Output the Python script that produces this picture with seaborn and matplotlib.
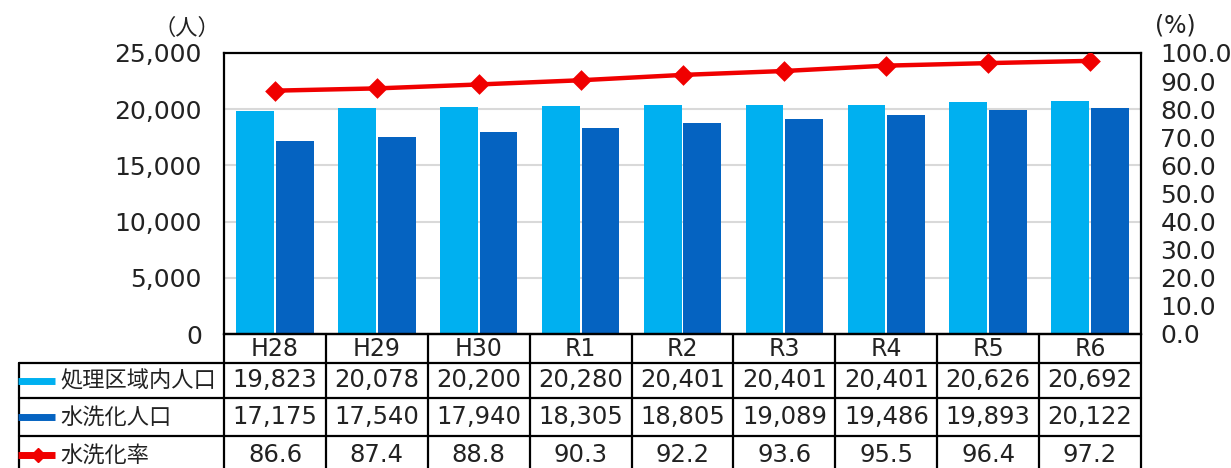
import matplotlib
matplotlib.use("Agg")
from matplotlib import pyplot as plt
from matplotlib import transforms
from matplotlib.ticker import FuncFormatter, MultipleLocator
import seaborn as sns
import numpy as np
import pandas as pd

# データ
years = ["H28", "H29", "H30", "R1", "R2", "R3", "R4", "R5", "R6"]
area_pop = [19823, 20078, 20200, 20280, 20401, 20401, 20401, 20626, 20692]
flush_pop = [17175, 17540, 17940, 18305, 18805, 19089, 19486, 19893, 20122]
flush_rate = [86.6, 87.4, 88.8, 90.3, 92.2, 93.6, 95.5, 96.4, 97.2]
series_names = ["処理区域内人口", "水洗化人口", "水洗化率"]

C_LIGHT = "#00B0F0"
C_DARK = "#0563C1"
C_RED = "#F00000"
C_TXT = "#222222"

sns.set_theme(style="white")
# 数字は幅広の DejaVu、漢字は Noto CJK にフォールバック
plt.rcParams["font.family"] = ["DejaVu Sans", "Noto Sans CJK JP"]

W, H = 1231, 468
fig = plt.figure(figsize=(W / 100, H / 100), dpi=100)
# 軸の位置（ピクセル）
ax_l, ax_r, ax_t, ax_b = 224, 1141, 53, 334
ax = fig.add_axes([ax_l / W, 1 - ax_b / H, (ax_r - ax_l) / W, (ax_b - ax_t) / H])

df = pd.DataFrame({
    "year": years * 2,
    "value": area_pop + flush_pop,
    "series": [series_names[0]] * len(years) + [series_names[1]] * len(years),
})

# グリッド線（棒の後ろ）
ax.set_axisbelow(True)
ax.yaxis.grid(True, color="#D9D9D9", linewidth=1.5)

sns.barplot(data=df, x="year", y="value", hue="series", order=years,
            palette=[C_LIGHT, C_DARK], width=0.78, gap=0.05,
            saturation=1, linewidth=0, ax=ax, legend=False)
ax.set_ylim(0, 25000)
ax.yaxis.set_major_locator(MultipleLocator(5000))
ax.yaxis.set_major_formatter(FuncFormatter(lambda v, p: f"{int(v):,}"))
ax.set_xlim(-0.5, len(years) - 0.5)
ax.set_xlabel("")
ax.set_ylabel("")
ax.set_xticks(range(len(years)))
ax.set_xticklabels([])
ax.tick_params(axis="y", length=0, pad=16, labelsize=18, colors=C_TXT)
ax.tick_params(axis="x", length=0)
for s in ax.spines.values():
    s.set_color("black")
    s.set_linewidth(1.6)

# 第2軸：水洗化率
ax2 = ax.twinx()
sns.pointplot(x=years, y=flush_rate, order=years, color=C_RED, markers="D",
              markersize=8.5, linewidth=3.2, ax=ax2)
ax2.set_ylim(0, 100)
ax2.yaxis.set_major_locator(MultipleLocator(10))
ax2.yaxis.set_major_formatter(FuncFormatter(lambda v, p: f"{v:.1f}"))
ax2.set_xlim(-0.5, len(years) - 0.5)
ax2.tick_params(axis="y", length=0, pad=14, labelsize=18, colors=C_TXT)
ax2.set_ylabel("")
ax2.grid(False)
for s in ax2.spines.values():
    s.set_visible(False)

# 単位
fig.text(187 / W, 1 - 28 / H, "（人）", ha="center", va="center", fontsize=16, color=C_TXT)
fig.text(1175 / W, 1 - 26 / H, "(%)", ha="center", va="center", fontsize=17, color=C_TXT)

# データテーブル
cw = (ax_r - ax_l) / len(years)


def px2x(px):
    return -0.5 + (px - ax_l) / cw


def py(px):
    return 1 - px / H


tr = transforms.blended_transform_factory(ax.transData, fig.transFigure)
row_edges = [334, 363, 398, 436, 474]
x_left = px2x(19)
x_right = len(years) - 0.5
lw = 1.6
line_kw = dict(color="black", linewidth=lw, transform=tr, clip_on=False)

# 横線
for i, yp in enumerate(row_edges):
    x0 = -0.5 if i == 0 else x_left
    ax.plot([x0, x_right], [py(yp), py(yp)], **line_kw)
# 縦線
for i in range(len(years) + 1):
    ax.plot([i - 0.5, i - 0.5], [py(row_edges[0]), py(row_edges[-1])], **line_kw)
ax.plot([x_left, x_left], [py(row_edges[1]), py(row_edges[-1])], **line_kw)

txt_kw = dict(transform=tr, color=C_TXT, va="center", clip_on=False)
for i, yr in enumerate(years):
    ax.text(i, py((row_edges[0] + row_edges[1]) / 2), yr, ha="center", fontsize=17, **txt_kw)

rows = [
    [f"{v:,}" for v in area_pop],
    [f"{v:,}" for v in flush_pop],
    [f"{v:.1f}" for v in flush_rate],
]
colors = [C_LIGHT, C_DARK, C_RED]
for r, (vals, name, col) in enumerate(zip(rows, series_names, colors)):
    yc = py((row_edges[r + 1] + row_edges[r + 2]) / 2)
    for i, v in enumerate(vals):
        ax.text(i, yc, v, ha="center", fontsize=17.5, **txt_kw)
    ax.text(px2x(60), yc, name, ha="left", fontsize=16, **txt_kw)
    ax.plot([px2x(18), px2x(55)], [yc, yc], color=col, linewidth=5,
            solid_capstyle="butt", transform=tr, clip_on=False)
    if r == 2:
        ax.plot([px2x(38)], [yc], marker="D", color=col, markersize=7.5,
                transform=tr, clip_on=False)

fig.savefig("out.png", dpi=100)
